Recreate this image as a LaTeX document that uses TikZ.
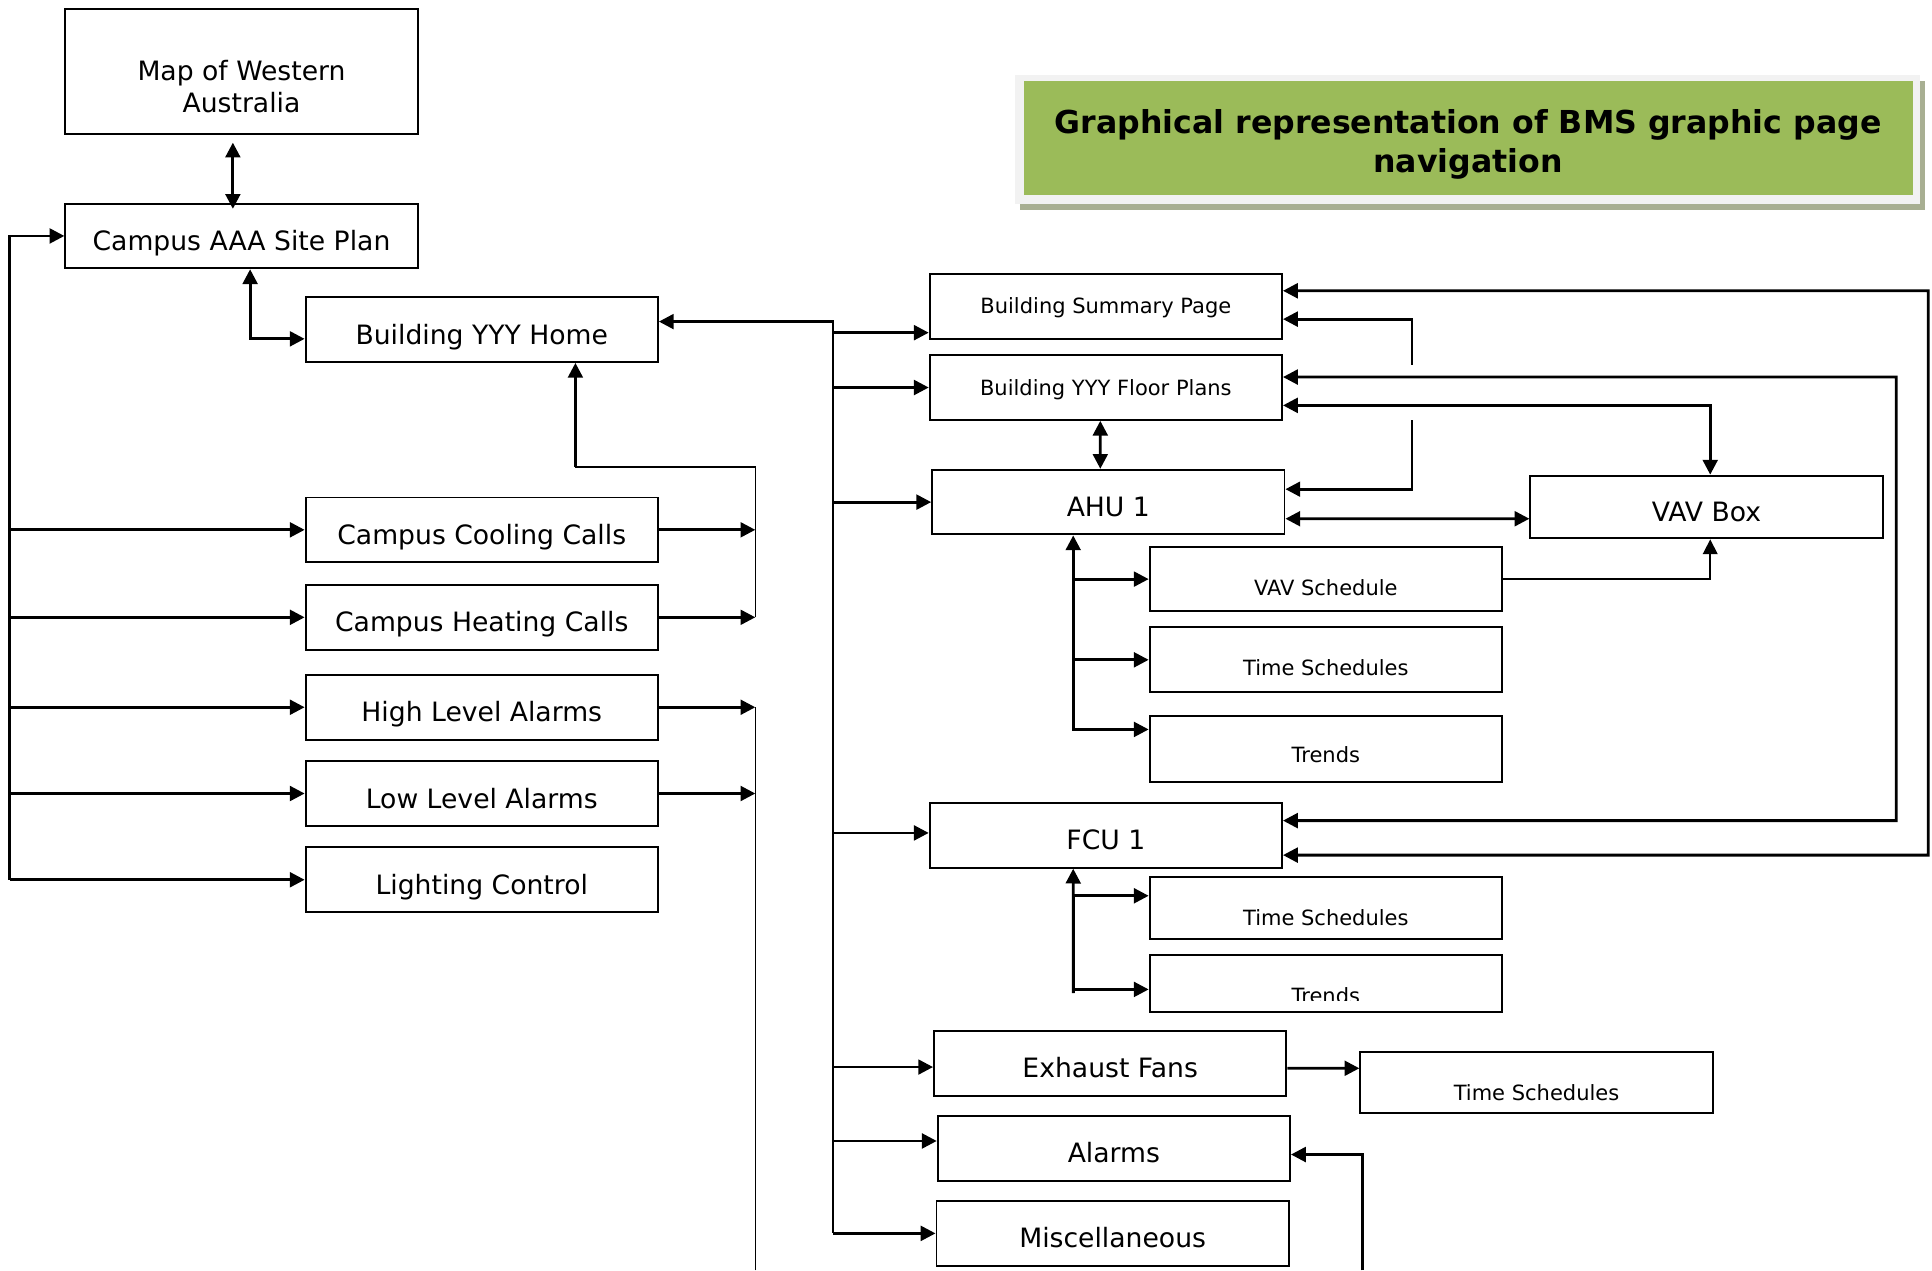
\documentclass[tikz,border=0pt]{standalone}
\usepackage{fontspec}
\setmainfont{DejaVu Sans}
\usetikzlibrary{arrows.meta,backgrounds}

\definecolor{titlegreen}{HTML}{9BBB59}
\definecolor{titleframe}{HTML}{F2F2F2}
\definecolor{titleshadow}{HTML}{A8AF92}

\begin{document}
\begin{tikzpicture}[
        x=0.02cm, y=-0.02cm,
        >={Triangle[length=0.24cm,width=0.24cm]},
        navbox/.style={draw, line width=0.9pt, inner sep=0pt,
            minimum width=5.72cm, minimum height=1.05cm,
            text height=13.4pt, text depth=0pt,
            font=\fontsize{12.3}{14.8}\selectfont},
        smallbox/.style={navbox, text height=7pt,
            font=\fontsize{9.7}{11.6}\selectfont},
        lowtext/.style={text height=#1, text depth=0pt},
        link/.style={line width=1.3pt},
        thinlink/.style={line width=0.75pt}
    ]
    \useasboundingbox (0,0) rectangle (1568,1031);

    \node[minimum width=14.42cm, minimum height=1.84cm, align=center,
        font=\bfseries\fontsize{14.6}{18.2}\selectfont] (title) at (1191.5,117)
        {Graphical representation of BMS graphic page\\navigation};
    \begin{scope}[on background layer]
        \fill[titleshadow] ([shift={(-3,-5)}]title.north west) rectangle ([shift={(10,7)}]title.south east);
        \fill[titleframe] ([shift={(-7,-10)}]title.north west) rectangle ([shift={(6,2)}]title.south east);
        \fill[titlegreen] ([shift={(0,-5)}]title.north west) rectangle ([shift={(0,-5)}]title.south east);
    \end{scope}

    \node[navbox, minimum height=2.04cm] (map) at (196,58) {};
    \node[align=center, font=\fontsize{12.3}{14.8}\selectfont] (maptext) at ([yshift=-0.24cm]map.center) {Map of Western\\Australia};
    \node[navbox] (site) at (196,191.5) {Campus AAA Site Plan};
    \node[navbox] (home) at (391,267.5) {Building YYY Home};
    \node[navbox] (cooling) at (391,430) {Campus Cooling Calls};
    \node[navbox] (heating) at (391,501) {Campus Heating Calls};
    \node[navbox] (highalarm) at (391,574) {High Level Alarms};
    \node[navbox] (lowalarm) at (391,644) {Low Level Alarms};
    \node[navbox] (lighting) at (391,714) {Lighting Control};

    \node[smallbox] (summary) at (897.5,248.5) {Building Summary Page};
    \node[smallbox] (floorplans) at (897.5,314.5) {Building YYY Floor Plans};
    \node[navbox] (ahu) at (899.5,407.5) {AHU 1};
    \node[navbox, minimum height=1.02cm] (vavbox) at (1385,411.5) {VAV Box};
    \node[smallbox, lowtext=15pt] (vavsched) at (1076,470) {VAV Schedule};
    \node[smallbox, lowtext=14.4pt, minimum height=1.06cm] (ahusched) at (1076,535.5) {Time Schedules};
    \node[smallbox, lowtext=12.7pt, minimum height=1.08cm] (ahutrends) at (1076,608) {Trends};
    \node[navbox] (fcu) at (897.5,678) {FCU 1};
    \node[smallbox, lowtext=16.1pt, minimum height=1cm] (fcusched) at (1076,737) {Time Schedules};
    \node[smallbox, minimum height=0.92cm] (fcutrends) at (1076,798) {};
    \begin{scope}
        \clip (fcutrends.north west) rectangle ([yshift=0.19cm]fcutrends.south east);
        \node[lowtext=18.4pt, font=\fontsize{9.7}{11.6}\selectfont] (fcutrendstext) at (fcutrends.center) {Trends};
    \end{scope}
    \node[navbox] (exhaust) at (901,863) {Exhaust Fans};
    \node[smallbox, lowtext=16.7pt, minimum height=0.98cm] (fansched) at (1247,878.5) {Time Schedules};
    \node[navbox] (alarms) at (904,932) {Alarms};
    \node[navbox] (misc) at (903,1001) {Miscellaneous};

    \draw[link, <->, shorten <=0.12cm, shorten >=-0.1cm] ([xshift=-0.14cm]map.south) -- ([xshift=-0.14cm]site.north);
    \draw[link, <->] ([xshift=0.14cm]site.south) |- ([yshift=-0.15cm]home.west);

    \coordinate (leftbus) at (8,714);
    \foreach \n in {site, cooling, heating, highalarm, lowalarm, lighting}
        \draw[link, <-] (\n.west) -| (leftbus);

    \coordinate (coolbus) at (613,379);
    \coordinate (homeup) at (467,379);
    \draw[link, ->] (cooling.east) -- (cooling.east -| coolbus);
    \draw[link, ->] (heating.east) -- (heating.east -| coolbus);
    \draw[thinlink] (heating.east -| coolbus) -- (coolbus) -- (homeup);
    \draw[link, ->] (homeup) -- (homeup |- home.south);

    \coordinate (alarmbus) at (613,1031);
    \draw[link, ->] (highalarm.east) -- (highalarm.east -| alarmbus);
    \draw[link, ->] (lowalarm.east) -- (lowalarm.east -| alarmbus);
    \draw[thinlink] (alarmbus) -- (highalarm.east -| alarmbus);

    \coordinate (rightbus) at (676,1001);
    \draw[link, <-] ([yshift=0.13cm]home.east) -| (rightbus);
    \foreach \n/\s in {summary/-0.43, floorplans/0, ahu/0, fcu/0.04, exhaust/-0.06, alarms/0.12, misc/0}
        \draw[link, <-] ([yshift=\s cm]\n.west) -| (rightbus);

    \draw[link, <->] ([xshift=-0.09cm]floorplans.south) -- ([xshift=-0.13cm]ahu.north);

    \coordinate (outerloop) at (1565,694);
    \coordinate (innerloop) at (1539,666);
    \draw[link, <->] ([yshift=0.25cm]summary.east) -| (outerloop) -- ([yshift=-0.32cm]fcu.east);
    \draw[link, <->] ([yshift=0.17cm]floorplans.east) -| (innerloop) -- ([yshift=0.24cm]fcu.east);

    \coordinate (stubA) at (1146,296);
    \coordinate (stubB) at (1146,341);
    \draw[link, ->] (stubA) |- ([yshift=-0.21cm]summary.east);
    \draw[link, ->] (stubB) |- ([yshift=0.21cm]ahu.east);

    \draw[link, <->] ([yshift=-0.29cm]floorplans.east) -| ([xshift=0.06cm]vavbox.north);
    \draw[link, <->] ([yshift=-0.27cm]ahu.east) -- ([yshift=-0.19cm]vavbox.west);
    \draw[thinlink, ->] (vavsched.east) -| ([xshift=0.06cm]vavbox.south);

    \coordinate (ahubus) at (871,592);
    \draw[link, <-] (vavsched.west) -| (ahubus);
    \draw[link, <-] (ahusched.west) -| (ahubus);
    \draw[link, <->] ([yshift=0.32cm]ahutrends.west) -| ([xshift=-0.57cm]ahu.south);

    \coordinate (fcubus) at (871,806);
    \draw[link, <-] ([yshift=0.2cm]fcusched.west) -| (fcubus);
    \draw[link, <-] ([yshift=-0.1cm]fcutrends.west) -| (fcubus);
    \draw[link, ->] (fcubus) -- ([xshift=-0.53cm]fcu.south);

    \draw[link, ->] ([yshift=-0.08cm]exhaust.east) -- ([yshift=0.23cm]fansched.west);

    \coordinate (alarmfeed) at (1106,1031);
    \draw[link, ->] (alarmfeed) |- ([yshift=-0.1cm]alarms.east);
\end{tikzpicture}
\end{document}
